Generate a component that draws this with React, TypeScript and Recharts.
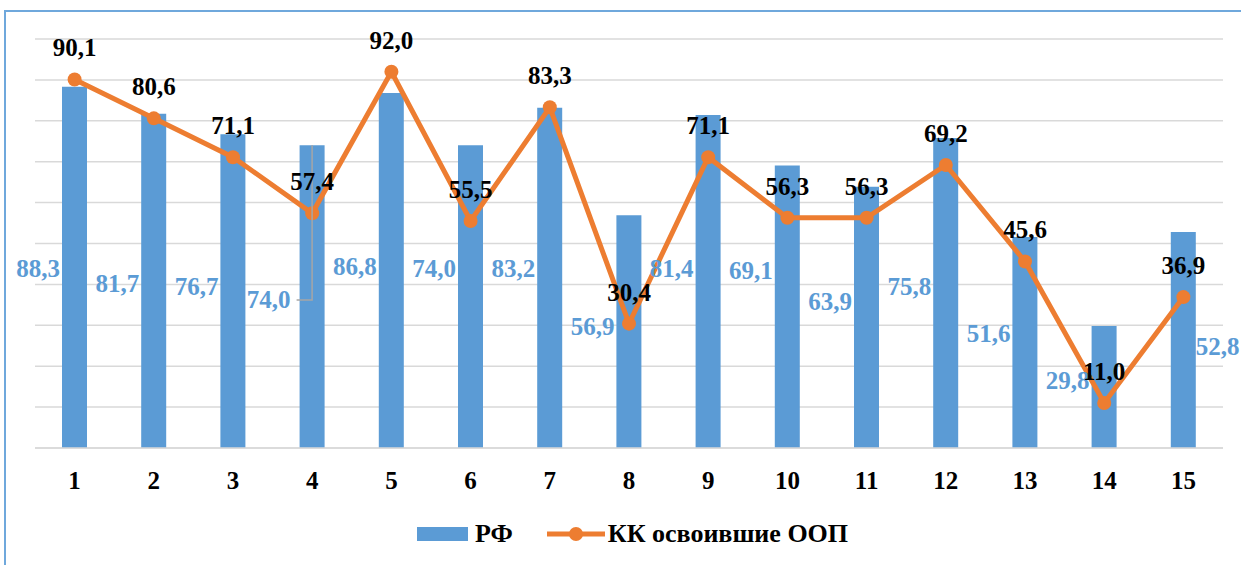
import { ComposedChart, Bar, Line, XAxis, YAxis, CartesianGrid, LabelList, Legend } from "recharts";

const categories = ["1", "2", "3", "4", "5", "6", "7", "8", "9", "10", "11", "12", "13", "14", "15"];
const rfValues = [88.3, 81.7, 76.7, 74.0, 86.8, 74.0, 83.2, 56.9, 81.4, 69.1, 63.9, 75.8, 51.6, 29.8, 52.8];
const kkValues = [90.1, 80.6, 71.1, 57.4, 92.0, 55.5, 83.3, 30.4, 71.1, 56.3, 56.3, 69.2, 45.6, 11.0, 36.9];
// where the hand-placed RF labels sit, in axis units
const rfLabelAt = [44.0, 40.3, 39.4, 36.2, 44.3, 44.0, 44.0, 29.6, 44.0, 43.5, 35.7, 39.4, 28.1, 16.4, 24.7];
const yTicks = [0, 10, 20, 30, 40, 50, 60, 70, 80, 90, 100];

const BLUE = "#5B9BD5";
const ORANGE = "#ED7D31";
const FONT = "'Liberation Serif', 'Times New Roman', serif";

const data = categories.map((name, i) => ({ name, rf: rfValues[i], kk: kkValues[i] }));

const fmt = (v: number) => v.toFixed(1).replace(".", ",");

function RfLabel(props: any) {
  const { x, y, width, height, index, value } = props;
  const base = y + height;
  const perUnit = height / value;
  const ly = base - rfLabelAt[index] * perUnit;
  const last = index === rfValues.length - 1;
  const lead = index === 3;
  const tx = last ? x + width : lead ? x - 9 : x - 2;
  return (
    <g>
      {lead && (
        <polyline
          points={`${x - 3},${ly} ${x + width / 2},${ly} ${x + width / 2},${y}`}
          fill="none"
          stroke="#A6A6A6"
          strokeWidth={1.5}
        />
      )}
      <text
        x={tx}
        y={ly}
        textAnchor={last ? "start" : "end"}
        dominantBaseline="central"
        fill={BLUE}
        fontFamily={FONT}
        fontWeight="bold"
        fontSize={25}
      >
        {fmt(value)}
      </text>
    </g>
  );
}

function KkLabel(props: any) {
  const { x, y, value } = props;
  return (
    <text x={x} y={y - 23} textAnchor="middle" fill="#000" fontFamily={FONT} fontWeight="bold" fontSize={25}>
      {fmt(value)}
    </text>
  );
}

function LegendBox() {
  return (
    <div style={{ display: "flex", alignItems: "center", paddingLeft: 417, fontFamily: FONT, fontWeight: "bold", fontSize: 26, color: "#000" }}>
      <span style={{ display: "inline-block", width: 51, height: 14, background: BLUE, marginRight: 7 }} />
      <span style={{ marginRight: 34 }}>РФ</span>
      <svg width={58} height={16} style={{ marginRight: 3 }}>
        <line x1={0} y1={8} x2={58} y2={8} stroke={ORANGE} strokeWidth={5} />
        <circle cx={29} cy={8} r={7} fill={ORANGE} />
      </svg>
      <span>КК освоившие ООП</span>
    </div>
  );
}

export default function App() {
  return (
    <div style={{ position: "absolute", left: 0, top: 0, width: 1241, height: 565, overflow: "hidden", background: "#fff" }}>
      <div
        style={{
          position: "absolute",
          left: 4,
          top: 10,
          width: 1300,
          height: 700,
          border: "2px solid #6FA8DC",
          boxSizing: "border-box",
        }}
      />
      <div style={{ position: "absolute", left: 0, top: 0 }}>
        <ComposedChart width={1241} height={565} data={data} margin={{ top: 39, right: 18, left: 35, bottom: 77 }}>
          <CartesianGrid vertical={false} stroke="#D9D9D9" strokeWidth={1.5} />
          <XAxis
            dataKey="name"
            height={40}
            axisLine={{ stroke: "#D9D9D9", strokeWidth: 1.5 }}
            tickLine={false}
            tickSize={0}
            tickMargin={23}
            interval={0}
            tick={{ fill: "#000", fontFamily: FONT, fontWeight: "bold", fontSize: 25 }}
          />
          <YAxis hide domain={[0, 100]} ticks={yTicks} />
          <Bar dataKey="rf" name="РФ" fill={BLUE} barSize={25} isAnimationActive={false}>
            <LabelList dataKey="rf" content={RfLabel} />
          </Bar>
          <Line
            dataKey="kk"
            name="КК освоившие ООП"
            stroke={ORANGE}
            strokeWidth={5}
            dot={{ r: 7, fill: ORANGE, stroke: ORANGE, strokeWidth: 0 }}
            activeDot={false}
            isAnimationActive={false}
          >
            <LabelList dataKey="kk" content={KkLabel} />
          </Line>
          <Legend
            layout="horizontal"
            verticalAlign="middle"
            align="center"
            content={LegendBox}
            wrapperStyle={{ top: 519, left: 0, width: 1241 }}
          />
        </ComposedChart>
      </div>
    </div>
  );
}
